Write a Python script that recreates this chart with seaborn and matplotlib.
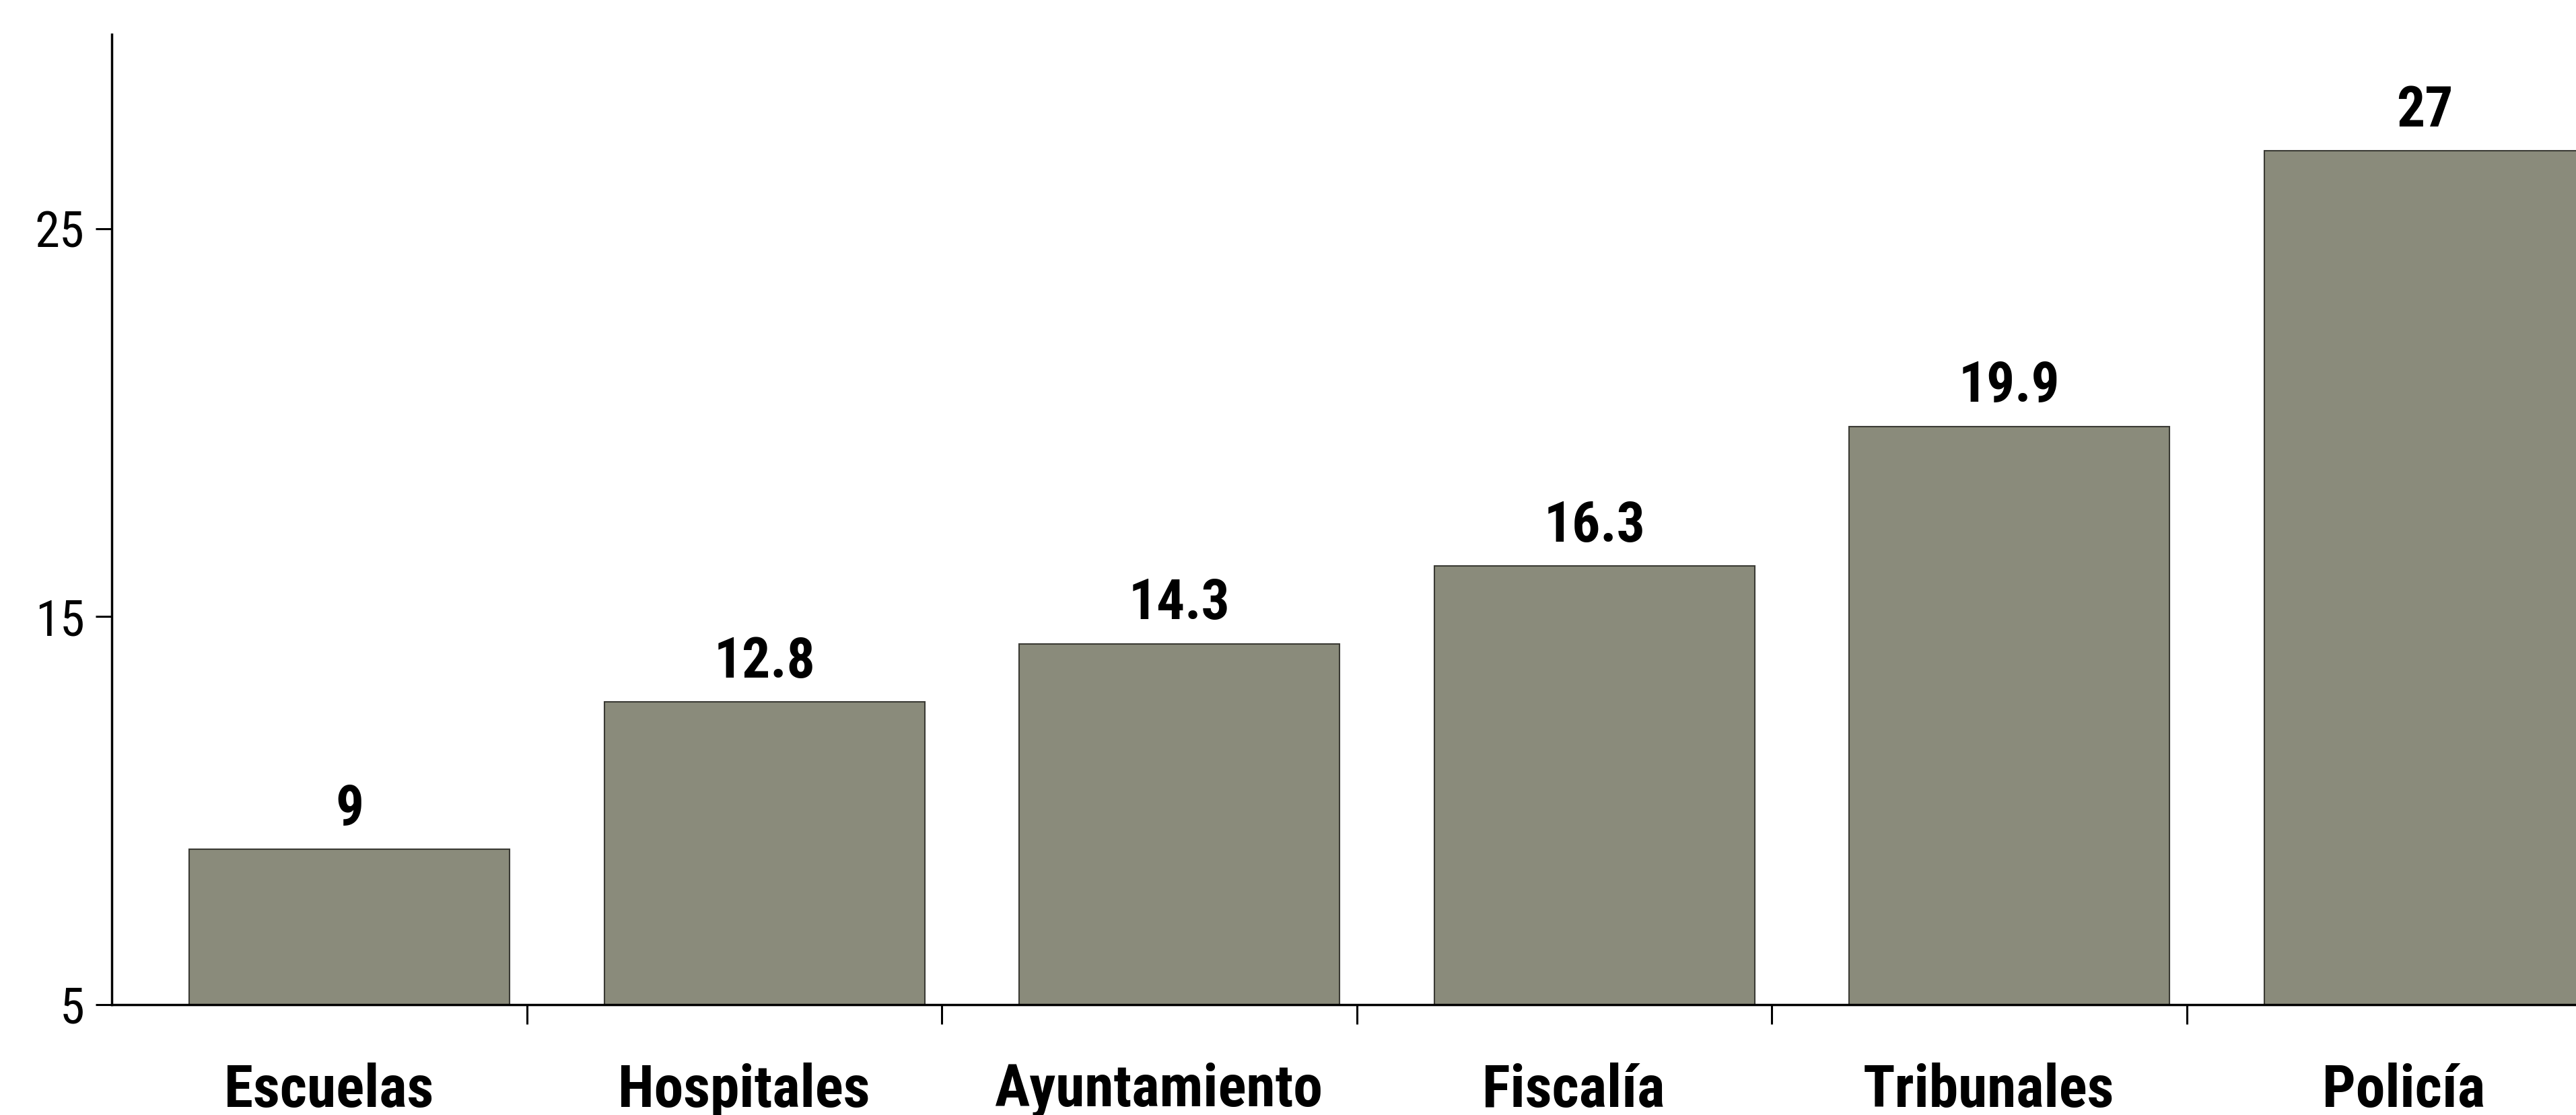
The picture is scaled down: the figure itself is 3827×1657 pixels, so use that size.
import matplotlib
matplotlib.use('Agg')
import matplotlib.pyplot as plt
from matplotlib import font_manager
import seaborn as sns
import pandas as pd

# data
categories = ['Escuelas', 'Hospitales', 'Ayuntamiento', 'Fiscalía', 'Tribunales', 'Policía']
values = [9, 12.8, 14.3, 16.3, 19.9, 27]
value_labels = ['9', '12.8', '14.3', '16.3', '19.9', '27']
y_ticks = [5, 15, 25]

df = pd.DataFrame({'Institucion': categories, 'Valor': values})

# the original uses a narrow bold face; take the narrowest one installed
installed = {f.name for f in font_manager.fontManager.ttflist}
narrow = [f for f in ['Liberation Sans Narrow', 'Arial Narrow', 'Roboto Condensed',
                      'DejaVu Sans Condensed'] if f in installed]

sns.set_style('white')
plt.rcParams['font.family'] = narrow + ['Liberation Sans', 'DejaVu Sans']
plt.rcParams['text.color'] = 'black'
plt.rcParams['xtick.color'] = 'black'
plt.rcParams['ytick.color'] = 'black'

fig = plt.figure(figsize=(38.27, 16.57), dpi=100)
ax = fig.add_axes([0.0434, 0.099, 1.0 - 0.0434, 0.870])

sns.barplot(data=df, x='Institucion', y='Valor', color='#8a8b7b', width=0.772,
            saturation=1, edgecolor='#3a3a34', linewidth=1.5, ax=ax)

ax.set_ylim(5, 30)
ax.set_xlim(-0.5725, 5.365)

if narrow:
    lab_size, tick_size, cat_size = 60, 54, 63
else:
    lab_size, tick_size, cat_size = 58, 50, 54

ax.bar_label(ax.containers[0], labels=value_labels, padding=14,
             fontsize=lab_size, fontweight='bold', color='black')

# y axis
ax.set_yticks(y_ticks)
ax.set_yticklabels([str(t) for t in y_ticks], fontsize=tick_size)
ax.tick_params(axis='y', direction='out', length=17, width=2.2, pad=12, left=True)

# x axis: tick marks at category boundaries, labels in the middle
bounds = [i + 0.4275 for i in range(5)]
ax.set_xticks(bounds)
ax.set_xticklabels([''] * len(bounds))
ax.tick_params(axis='x', which='major', direction='out', length=21, width=2.2, bottom=True)
ax.set_xticks([i - 0.05 for i in range(len(categories))], minor=True)
ax.set_xticklabels(categories, minor=True, fontsize=cat_size, fontweight='bold')
ax.tick_params(axis='x', which='minor', length=0, pad=62)

for s in ['top', 'right']:
    ax.spines[s].set_visible(False)
for s in ['left', 'bottom']:
    ax.spines[s].set_linewidth(2.5)
    ax.spines[s].set_color('black')
ax.spines['left'].set_bounds(5, 30)
ax.set_xlabel('')
ax.set_ylabel('')

fig.savefig('out.png', dpi=100, facecolor='white')
